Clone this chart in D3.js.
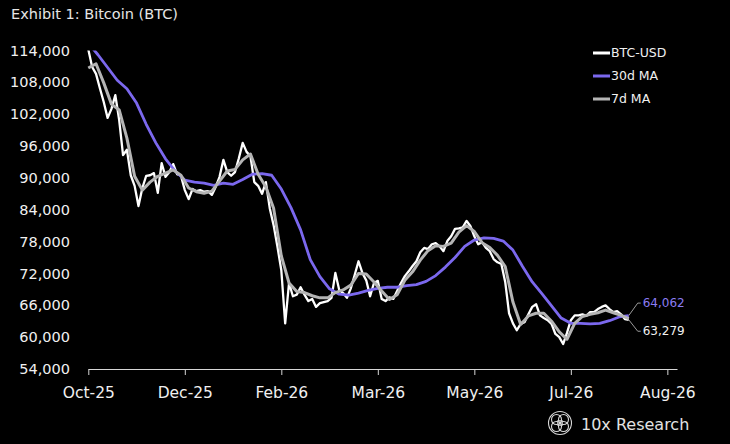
<!DOCTYPE html>
<html>
<head>
<meta charset="utf-8">
<script src="https://cdn.jsdelivr.net/npm/d3@7"></script>
<style>
  html, body { margin: 0; padding: 0; background: #000; }
  svg { display: block; font-family: "DejaVu Sans", sans-serif; }
</style>
</head>
<body>
<div id="chart"></div>
<script>
const title = "Exhibit 1: Bitcoin (BTC)"
const brand = "10x Research"
const seriesNames = ["BTC-USD", "30d MA", "7d MA"]
const seriesColors = ["#ffffff", "#7b68ee", "#b4b4b4"]

// all series start on the same day, sampled every N days
const startDate = "2025-10-28"
const btcStepDays = 2
const btcValues = [
  114200, 110900, 109600, 106900, 104300, 101300, 103000, 105600, 100900, 94300,
  95300, 90500, 88500, 84700, 88100, 90400, 90500, 90900, 87200, 92800,
  90200, 91100, 92600, 90700, 90400, 87700, 86000, 87900, 87500, 87700,
  87400, 87500, 86800, 88300, 90200, 93400, 91100, 90400, 91100, 93700,
  96600, 94900, 94100, 89200, 88500, 87000, 89200, 84300, 81100, 77000,
  72600, 62600, 70200, 67700, 68000, 69400, 68000, 66800, 67200, 65700,
  66400, 66600, 66800, 67400, 72100, 68900, 68300, 67400, 69200, 71700,
  74300, 72100, 70700, 67700, 70200, 70600, 67200, 66800, 67500, 67200,
  68700, 70200, 71500, 72400, 73400, 74300, 76000, 76800, 76600, 77500,
  77700, 77100, 76200, 78100, 79000, 80400, 80500, 80700, 81900, 80900,
  79000, 77500, 77900, 76800, 76200, 74700, 74100, 73800, 70400, 64500,
  62600, 61300, 62500, 62800, 64300, 65700, 66200, 64100, 63600, 63200,
  62500, 60600, 60000, 58700, 60800, 63200, 64100, 64100, 64300, 64000,
  64700, 64700, 65300, 65700, 66000, 65300, 64700, 64900, 64300, 63400,
  63279
]
const ma30StepDays = 5
const ma30Values = [
  115400, 113200, 110800, 108400, 106800, 104100, 100100, 96600, 93600, 91300,
  89600, 89200, 89000, 88600, 89000, 88800, 89700, 90700, 90800, 90500,
  87900, 84400, 80200, 74600, 71400, 69100, 68100, 67900, 68300, 68800,
  69200, 69400, 69400, 69700, 69900, 70500, 71600, 73200, 75000, 77100,
  78300, 78700, 78600, 78100, 76400, 73300, 70400, 68200, 65900, 63600,
  62600, 62600, 62500, 62600, 63100, 63800, 64062
]
const ma7StepDays = 4
const ma7Values = [
  110700, 111500, 107900, 103900, 102800, 97500, 90300, 87700, 89200, 90300,
  90900, 91500, 90500, 88100, 87400, 87100, 87500, 89400, 91300, 91600,
  93400, 94500, 90700, 88300, 84300, 75300, 70200, 68600, 68400, 67800,
  67400, 67400, 68400, 68900, 69800, 72000, 71900, 70400, 68700, 67100,
  68000, 70700, 72300, 74500, 76300, 77200, 77100, 77700, 79800, 81000,
  79900, 77800, 76900, 75400, 73300, 66600, 62400, 64000, 64500, 64500,
  63000, 61000, 59600, 62600, 63900, 64300, 64600, 65100, 64600, 64100,
  63500
]

const xDomain = ["2025-10-28", "2026-08-29"]
const xTickDates = ["2025-10-28", "2025-12-17", "2026-02-05", "2026-03-27", "2026-05-16", "2026-07-05", "2026-08-24"]
const yTicks = [54000, 60000, 66000, 72000, 78000, 84000, 90000, 96000, 102000, 108000, 114000]

const width = 730
const height = 444
const margin = {top: 50.5, right: 53, bottom: 75, left: 88.3}

const parse = d3.utcParse("%Y-%m-%d")
const start = parse(startDate)
const toPoints = (values, step) => values.map((v, i) => ({date: d3.utcDay.offset(start, i * step), value: v}))

const series = [
  {name: seriesNames[0], color: seriesColors[0], width: 2.3, points: toPoints(btcValues, btcStepDays)},
  {name: seriesNames[1], color: seriesColors[1], width: 2.8, points: toPoints(ma30Values, ma30StepDays)},
  {name: seriesNames[2], color: seriesColors[2], width: 3, points: toPoints(ma7Values, ma7StepDays)}
]

const svg = d3.select("#chart").append("svg")
  .attr("width", width)
  .attr("height", height)
  .attr("viewBox", [0, 0, width, height])

svg.append("rect").attr("width", width).attr("height", height).attr("fill", "#000")

const x = d3.scaleUtc()
  .domain(xDomain.map(parse))
  .range([margin.left, width - margin.right])

const y = d3.scaleLinear()
  .domain([d3.min(yTicks), d3.max(yTicks)])
  .range([height - margin.bottom, margin.top])

svg.append("text")
  .attr("x", 11)
  .attr("y", 19)
  .attr("fill", "#e6e6e6")
  .attr("font-size", 14.5)
  .text(title)

// y axis: labels only
svg.append("g")
  .attr("transform", `translate(70,0)`)
  .call(d3.axisLeft(y).tickValues(yTicks).tickFormat(d3.format(",")).tickSize(0).tickPadding(0))
  .call(g => g.select(".domain").remove())
  .call(g => g.selectAll("text").attr("fill", "#f0f0f0").attr("font-size", 14.5))
  .attr("font-family", null)

// x axis
svg.append("g")
  .attr("transform", `translate(0,${y(d3.min(yTicks))})`)
  .call(d3.axisBottom(x)
    .tickValues(xTickDates.map(parse))
    .tickFormat(d3.utcFormat("%b-%y"))
    .tickSize(6).tickSizeOuter(0).tickPadding(12))
  .call(g => g.select(".domain").attr("stroke", "#d6d6d6"))
  .call(g => g.selectAll(".tick line").attr("stroke", "#d6d6d6"))
  .call(g => g.selectAll("text").attr("fill", "#f0f0f0").attr("font-size", 15.5))
  .attr("font-family", null)

svg.append("clipPath").attr("id", "plot-clip")
  .append("rect")
  .attr("x", margin.left - 2).attr("y", margin.top)
  .attr("width", width - margin.left - margin.right + 4)
  .attr("height", height - margin.top - margin.bottom)

const line = d3.line()
  .x(d => x(d.date))
  .y(d => y(d.value))

svg.append("g")
  .attr("clip-path", "url(#plot-clip)")
  .selectAll("path")
  .data(series)
  .join("path")
    .attr("fill", "none")
    .attr("stroke", d => d.color)
    .attr("stroke-width", d => d.width)
    .attr("stroke-linejoin", "round")
    .attr("d", d => line(d.points))

// legend
const legend = svg.append("g")
  .selectAll("g")
  .data(series)
  .join("g")
    .attr("transform", (d, i) => `translate(593,${53 + i * 23})`)

legend.append("line")
  .attr("x1", 0).attr("x2", 17)
  .attr("stroke", d => d.color)
  .attr("stroke-width", 3)

legend.append("text")
  .attr("x", 18)
  .attr("dy", "0.35em")
  .attr("fill", "#f0f0f0")
  .attr("font-size", 12.5)
  .text(d => d.name)

// end-of-series labels with leader lines
const endLabels = [
  {s: series[1], dy: -12.5, color: "#8b7cf2"},
  {s: series[0], dy: 11.5, color: "#f0f0f0"}
]

endLabels.forEach(({s, dy, color}) => {
  const last = s.points[s.points.length - 1]
  const x0 = x(last.date), y0 = y(last.value)
  svg.append("path")
    .attr("fill", "none")
    .attr("stroke", "#9a9a9a")
    .attr("stroke-width", 1)
    .attr("d", d3.line()([[x0, y0], [x0 + 9, y0 + dy], [x0 + 12, y0 + dy]]))
  svg.append("text")
    .attr("x", x0 + 14)
    .attr("y", y0 + dy)
    .attr("dy", "0.35em")
    .attr("fill", color)
    .attr("font-size", 12)
    .text(d3.format(",")(last.value))
})

// brand mark
const logo = svg.append("g").attr("transform", "translate(560,423)")
  .attr("fill", "none").attr("stroke", "#d8d8d8").attr("stroke-width", 1.1)
logo.append("circle").attr("r", 11.5)
;[[-3.5, -3.5], [3.5, -3.5], [-3.5, 3.5], [3.5, 3.5]].forEach(([cx, cy]) => {
  logo.append("circle").attr("cx", cx).attr("cy", cy).attr("r", 5)
})
logo.append("rect").attr("x", -2.2).attr("y", -2.2).attr("width", 4.4).attr("height", 4.4)

svg.append("text")
  .attr("x", 581)
  .attr("y", 430)
  .attr("fill", "#e2e2e2")
  .attr("font-size", 16)
  .text(brand)
</script>
</body>
</html>
